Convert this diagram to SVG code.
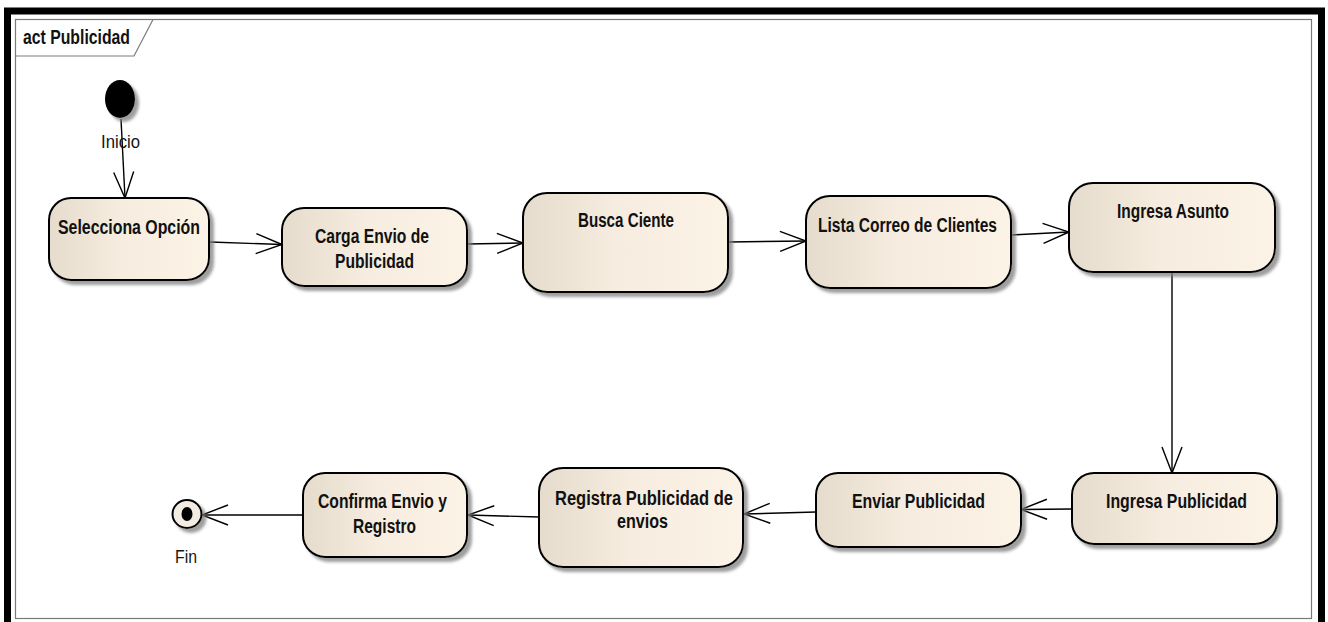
<svg xmlns="http://www.w3.org/2000/svg" width="1328" height="622" viewBox="0 0 1328 622">
  <defs>
    <linearGradient id="actFill" x1="0" y1="0" x2="1" y2="0">
      <stop offset="0" stop-color="#E6DCCD"/>
      <stop offset="0.45" stop-color="#F6ECDF"/>
      <stop offset="1" stop-color="#FCF3E7"/>
    </linearGradient>
    <filter id="shadow" x="-10%" y="-10%" width="130%" height="140%">
      <feDropShadow dx="4" dy="4" stdDeviation="1.6" flood-color="#7f7f7f" flood-opacity="0.75"/>
    </filter>
    <marker id="open" viewBox="-28 -12 30 24" markerWidth="30" markerHeight="24" refX="0" refY="0" markerUnits="userSpaceOnUse" orient="auto">
      <path d="M -26 -10 L 0 0 L -26 10" fill="none" stroke="#000" stroke-width="1.4"/>
    </marker>
  </defs>
  <style>
    .action { fill: url(#actFill); stroke: #000; stroke-width: 2; filter: url(#shadow); }
    .label { font-family: "Liberation Sans", Arial, sans-serif; font-weight: bold; font-size: 20px; fill: #111; }
    .plain { font-family: "Liberation Sans", Arial, sans-serif; font-size: 18px; fill: #141414; }
    .flow { fill: none; stroke: #000; stroke-width: 1.4; marker-end: url(#open); }
  </style>

  <rect width="1328" height="622" fill="#fff"/>

  <!-- outer border and activity frame -->
  <rect x="7.5" y="11" width="1314" height="622" fill="none" stroke="#000" stroke-width="7"/>
  <rect x="15.5" y="19.5" width="1296" height="599" fill="#fff" stroke="#7a7a7a" stroke-width="1.2"/>
  <g id="frame-tab">
    <path d="M15.5 56 L134 56 L153 19.5" fill="none" stroke="#7a7a7a" stroke-width="1.2"/>
    <text class="label" x="23" y="44" font-size="18" textLength="107" lengthAdjust="spacingAndGlyphs">act Publicidad</text>
  </g>

  <!-- connectors -->
  <g id="connectors">
    <path class="flow" d="M121 119 L125 198"/>
    <path class="flow" d="M210 242 L282 244.5"/>
    <path class="flow" d="M467 244 L523 243"/>
    <path class="flow" d="M728 242 L806 241"/>
    <path class="flow" d="M1011 235 L1069 232"/>
    <path class="flow" d="M1172 272 L1172 473"/>
    <path class="flow" d="M1072 509 L1021 509.5"/>
    <path class="flow" d="M816 512 L744 514"/>
    <path class="flow" d="M539 517 L468 515"/>
    <path class="flow" d="M303 515 L202 515"/>
  </g>

  <!-- start -->
  <g id="inicio">
    <ellipse cx="120" cy="99" rx="15" ry="19" fill="#000" filter="url(#shadow)"/>
    <text class="plain" x="101" y="148" textLength="39" lengthAdjust="spacingAndGlyphs">Inicio</text>
  </g>

  <g id="selecciona-opcion">
    <rect class="action" x="49" y="198" width="160" height="82" rx="22"/>
    <text class="label" x="58" y="234" textLength="142" lengthAdjust="spacingAndGlyphs">Selecciona Opción</text>
  </g>

  <g id="carga-envio">
    <rect class="action" x="282" y="208" width="185" height="78" rx="22"/>
    <text class="label" x="315" y="243" textLength="114" lengthAdjust="spacingAndGlyphs">Carga Envio de</text>
    <text class="label" x="335" y="268" textLength="79" lengthAdjust="spacingAndGlyphs">Publicidad</text>
  </g>

  <g id="busca-ciente">
    <rect class="action" x="523" y="193" width="205" height="99" rx="24"/>
    <text class="label" x="578" y="227" textLength="96" lengthAdjust="spacingAndGlyphs">Busca Ciente</text>
  </g>

  <g id="lista-correo">
    <rect class="action" x="806" y="196" width="205" height="92" rx="24"/>
    <text class="label" x="818" y="232" textLength="179" lengthAdjust="spacingAndGlyphs">Lista Correo de Clientes</text>
  </g>

  <g id="ingresa-asunto">
    <rect class="action" x="1069" y="183" width="206" height="89" rx="24"/>
    <text class="label" x="1117" y="218" textLength="112" lengthAdjust="spacingAndGlyphs">Ingresa Asunto</text>
  </g>

  <g id="ingresa-publicidad">
    <rect class="action" x="1072" y="473" width="205" height="71" rx="22"/>
    <text class="label" x="1106" y="508" textLength="141" lengthAdjust="spacingAndGlyphs">Ingresa Publicidad</text>
  </g>

  <g id="enviar-publicidad">
    <rect class="action" x="816" y="473" width="205" height="74" rx="22"/>
    <text class="label" x="852" y="508" textLength="133" lengthAdjust="spacingAndGlyphs">Enviar Publicidad</text>
  </g>

  <g id="registra-publicidad">
    <rect class="action" x="539" y="468" width="204" height="99" rx="24"/>
    <text class="label" x="555" y="505" textLength="178" lengthAdjust="spacingAndGlyphs">Registra Publicidad de</text>
    <text class="label" x="617" y="528" textLength="51" lengthAdjust="spacingAndGlyphs">envios</text>
  </g>

  <g id="confirma-envio">
    <rect class="action" x="303" y="473" width="164" height="84" rx="22"/>
    <text class="label" x="318" y="508" textLength="129" lengthAdjust="spacingAndGlyphs">Confirma Envio y</text>
    <text class="label" x="353" y="533" textLength="63" lengthAdjust="spacingAndGlyphs">Registro</text>
  </g>

  <!-- end -->
  <g id="fin">
    <ellipse cx="187" cy="514" rx="14.5" ry="14" fill="#F2ECE2" stroke="#000" stroke-width="2" filter="url(#shadow)"/>
    <ellipse cx="187" cy="514" rx="5.5" ry="7" fill="#000"/>
    <text class="plain" x="175" y="563" textLength="22" lengthAdjust="spacingAndGlyphs">Fin</text>
  </g>
</svg>
